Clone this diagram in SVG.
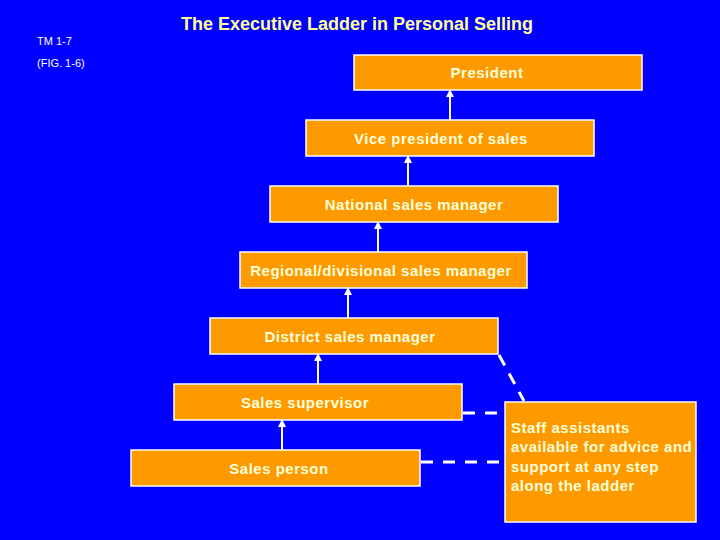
<svg xmlns="http://www.w3.org/2000/svg" width="720" height="540" viewBox="0 0 720 540">
<defs>
<style>
.box{fill:#FF9900;stroke:#FFFFFF;stroke-width:1.5}
.t{font-family:"Liberation Sans",Arial,sans-serif;font-size:15px;font-weight:bold;fill:#FFFFD9;letter-spacing:0.5px}
.s{font-family:"Liberation Sans",Arial,sans-serif;font-size:11px;fill:#FFFFFF}
.arr{stroke:#FFFFFF;stroke-width:2;fill:none;marker-end:url(#ah)}
.dash{stroke:#FFFFFF;stroke-width:3;fill:none;stroke-dasharray:12,9}
</style>
<marker id="ah" markerWidth="8" markerHeight="8" refX="6" refY="4" orient="auto" markerUnits="userSpaceOnUse">
<path d="M0,0 L8,4 L0,8 z" fill="#FFFFFF"/>
</marker>
</defs>
<rect width="720" height="540" fill="#0000FF"/>
<text x="357" y="30" text-anchor="middle" style="font-family:'Liberation Sans',Arial,sans-serif;font-size:18px;font-weight:bold;fill:#FFFF99">The Executive Ladder in Personal Selling</text>
<text class="s" x="37" y="45">TM 1-7</text>
<text class="s" x="37" y="67">(FIG. 1-6)</text>
<g id="connectors">
<line class="arr" x1="450" y1="120" x2="450" y2="91"/>
<line class="arr" x1="408" y1="186" x2="408" y2="157"/>
<line class="arr" x1="378" y1="252" x2="378" y2="223"/>
<line class="arr" x1="348" y1="318" x2="348" y2="289"/>
<line class="arr" x1="318" y1="384" x2="318" y2="355"/>
<line class="arr" x1="282" y1="450" x2="282" y2="421"/>
<line class="dash" x1="499" y1="355" x2="524" y2="401"/>
<line class="dash" x1="463" y1="413" x2="505" y2="413" style="stroke-dasharray:12,10"/>
<line class="dash" x1="421" y1="462" x2="505" y2="462" style="stroke-dasharray:12,10"/>
</g>
<g id="president"><rect class="box" x="354" y="55" width="288" height="35"/><text class="t" x="487" y="78" text-anchor="middle">President</text></g>
<g id="vp"><rect class="box" x="306" y="120" width="288" height="36"/><text class="t" x="441" y="144" text-anchor="middle">Vice president of sales</text></g>
<g id="national"><rect class="box" x="270" y="186" width="288" height="36"/><text class="t" x="414" y="210" text-anchor="middle">National sales manager</text></g>
<g id="regional"><rect class="box" x="240" y="252" width="287" height="36"/><text class="t" x="381" y="276" text-anchor="middle">Regional/divisional sales manager</text></g>
<g id="district"><rect class="box" x="210" y="318" width="288" height="36"/><text class="t" x="350" y="342" text-anchor="middle">District sales manager</text></g>
<g id="supervisor"><rect class="box" x="174" y="384" width="288" height="36"/><text class="t" x="305" y="408" text-anchor="middle">Sales supervisor</text></g>
<g id="salesperson"><rect class="box" x="131" y="450" width="289" height="36"/><text class="t" x="279" y="474" text-anchor="middle">Sales person</text></g>
<g id="staff"><rect class="box" x="505" y="402" width="191" height="120"/>
<text class="t" x="511" y="433">Staff assistants</text>
<text class="t" x="511" y="452">available for advice and</text>
<text class="t" x="511" y="472">support at any step</text>
<text class="t" x="511" y="491">along the ladder</text></g>
</svg>
